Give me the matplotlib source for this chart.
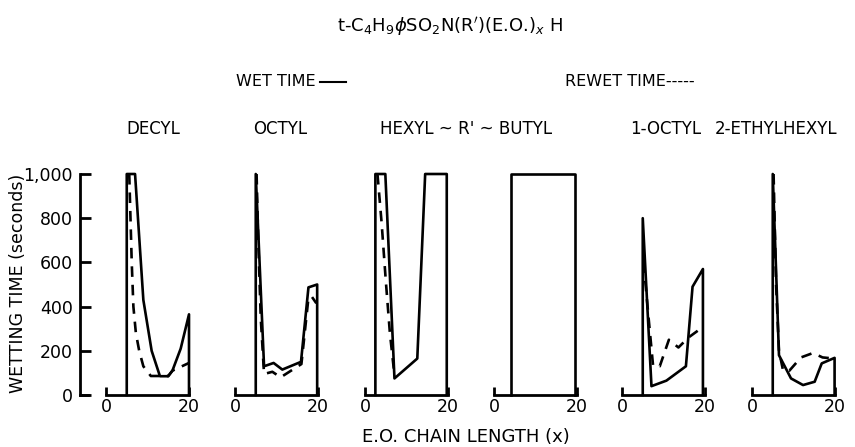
import matplotlib
matplotlib.use("Agg")
import matplotlib.pyplot as plt
from matplotlib.lines import Line2D

plt.rcParams["font.family"] = ["DejaVu Sans"]

# panel names and axis ticks
names = ["DECYL", "OCTYL", "HEXYL", "BUTYL", "1-OCTYL", "2-ETHYLHEXYL"]
y_ticks = [0, 200, 400, 600, 800, 1000]
y_tick_labels = ["0", "200", "400", "600", "800", "1,000"]
x_ticks = [0, 20]

# wet time (solid), drawn as an outline from the baseline and back
decyl_wet_x = [5, 5, 7, 9, 11, 13, 15, 16, 18, 20, 20]
decyl_wet_y = [0, 1000, 1000, 430, 200, 85, 85, 110, 210, 365, 0]
octyl_wet_x = [5, 5, 7, 9.3, 11.4, 15.9, 17.7, 19.8, 19.8]
octyl_wet_y = [0, 1000, 130, 145, 115, 150, 487, 500, 0]
hexyl_wet_x = [2.5, 2.5, 4.9, 7.1, 12.6, 14.5, 19.7, 19.7]
hexyl_wet_y = [0, 1000, 1000, 75, 165, 1000, 1000, 0]
butyl_wet_x = [4, 4, 19.5, 19.5]
butyl_wet_y = [0, 1000, 1000, 0]
ioctyl_wet_x = [5, 5, 7.1, 10.7, 15.4, 17, 19.5, 19.5]
ioctyl_wet_y = [0, 800, 40, 65, 130, 490, 570, 0]
ethylhexyl_wet_x = [5, 5, 6.5, 9.4, 12.3, 15.1, 16.8, 19.9, 19.9]
ethylhexyl_wet_y = [0, 1000, 180, 75, 45, 60, 143, 168, 0]

# rewet time (dashed)
decyl_rewet_x = [5.6, 6.2, 6.6, 7.2, 8, 9, 10.8, 15, 16, 20]
decyl_rewet_y = [1000, 600, 400, 280, 200, 130, 86, 86, 110, 145]
octyl_rewet_x = [5.2, 5.6, 6.2, 7, 9, 11, 16, 17.7, 18.5, 19.6]
octyl_rewet_y = [1000, 700, 350, 95, 105, 80, 140, 440, 445, 415]
hexyl_rewet_x = [3, 4, 5, 6, 7.1]
hexyl_rewet_y = [1000, 780, 520, 280, 90]
butyl_rewet_x = []
butyl_rewet_y = []
ioctyl_rewet_x = [5.2, 6.5, 7.5, 9.1, 11.3, 13.6, 16, 19.3]
ioctyl_rewet_y = [600, 330, 130, 130, 250, 215, 260, 305]
ethylhexyl_rewet_x = [5.2, 5.8, 6.5, 7.5, 9, 11.8, 14.7, 17, 19.7]
ethylhexyl_rewet_y = [1000, 500, 200, 110, 110, 170, 190, 170, 165]

wet = [(decyl_wet_x, decyl_wet_y), (octyl_wet_x, octyl_wet_y),
       (hexyl_wet_x, hexyl_wet_y), (butyl_wet_x, butyl_wet_y),
       (ioctyl_wet_x, ioctyl_wet_y), (ethylhexyl_wet_x, ethylhexyl_wet_y)]
rewet = [(decyl_rewet_x, decyl_rewet_y), (octyl_rewet_x, octyl_rewet_y),
         (hexyl_rewet_x, hexyl_rewet_y), (butyl_rewet_x, butyl_rewet_y),
         (ioctyl_rewet_x, ioctyl_rewet_y), (ethylhexyl_rewet_x, ethylhexyl_rewet_y)]

W, H = 855, 447
fig = plt.figure(figsize=(W / 100, H / 100), dpi=100)

def box(x, y, w, h):
    # pixel box (y from top) -> figure fraction
    return [x / W, 1 - (y + h) / H, w / W, h / H]

lefts = [106, 235, 365, 494, 622, 752]
for i in range(6):
    ax = fig.add_axes(box(lefts[i], 174, 83, 221))
    ax.set_xlim(0, 20)
    ax.set_ylim(0, 1000)
    for s in ["top", "right", "left"]:
        ax.spines[s].set_visible(False)
    ax.spines["bottom"].set_linewidth(2)
    ax.set_xticks(x_ticks)
    ax.set_xticklabels([str(t) for t in x_ticks], fontsize=12.5)
    ax.set_yticks([])
    ax.tick_params(axis="x", direction="in", length=6, width=2, pad=2)
    ax.plot(wet[i][0], wet[i][1], color="black", lw=1.9, clip_on=False)
    if rewet[i][0]:
        ax.plot(rewet[i][0], rewet[i][1], color="black", lw=1.9,
                linestyle=(0, (4, 3)), clip_on=False)

# wetting time axis on the far left
yax = fig.add_axes(box(80, 174, 8, 221))
yax.set_ylim(0, 1000)
yax.set_xlim(0, 1)
yax.spines["top"].set_visible(False)
yax.spines["right"].set_visible(False)
yax.spines["left"].set_linewidth(2)
yax.spines["bottom"].set_linewidth(2)
yax.set_xticks([])
yax.set_yticks(y_ticks)
yax.set_yticklabels(y_tick_labels, fontsize=12.5)
yax.tick_params(axis="y", direction="in", length=8, width=2, pad=5)
yax.patch.set_visible(False)

fig.text(18 / W, 1 - 283 / H, "WETTING TIME (seconds)", rotation=90,
         ha="center", va="center", fontsize=12.5)
fig.text(466 / W, 1 - 437 / H, "E.O. CHAIN LENGTH (x)",
         ha="center", va="center", fontsize=13)

fig.text(450 / W, 1 - 27 / H,
         r"t-C$_4$H$_9$$\phi$SO$_2$N(R$'$)(E.O.)$_x$ H",
         ha="center", va="center", fontsize=13)

# legend: text followed by a short solid line
wt = fig.text(236 / W, 1 - 81 / H, "WET TIME", ha="left", va="center",
              fontsize=11.5)
fig.canvas.draw()
bb = wt.get_window_extent()
fig.add_artist(Line2D([(bb.x1 + 4) / W, (bb.x1 + 30) / W],
                      [1 - 82 / H, 1 - 82 / H], color="black", lw=1.5))
fig.text(565 / W, 1 - 81 / H, "REWET TIME-----", ha="left", va="center",
         fontsize=11.5)

titles = [names[0], names[1], f"{names[2]} ~ R' ~ {names[3]}", names[4], names[5]]
title_x = [153, 280, 466, 666, 776]
for t, x in zip(titles, title_x):
    fig.text(x / W, 1 - 129 / H, t, ha="center", va="center", fontsize=12)

plt.savefig("out.png", dpi=100)
plt.close()
